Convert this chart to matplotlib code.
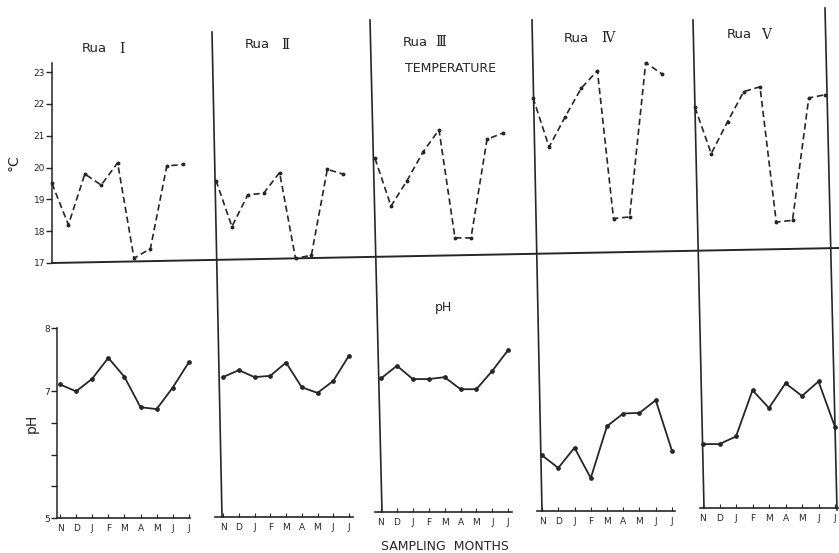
import matplotlib
matplotlib.use('Agg')
import matplotlib.pyplot as plt
from matplotlib.lines import Line2D
import numpy as np

W, H = 839, 553

months = ['N', 'D', 'J', 'F', 'M', 'A', 'M', 'J', 'J']
numerals = ['I', 'Ⅱ', 'Ⅲ', 'Ⅳ', 'Ⅴ']

# temperature (deg C), Nov -> Jul
temp_I = [19.5, 18.2, 19.8, 19.45, 20.15, 17.15, 17.45, 20.05, 20.1]
temp_II = [19.5, 18.05, 19.05, 19.1, 19.75, 17.05, 17.15, 19.85, 19.7]
temp_III = [20.1, 18.6, 19.4, 20.3, 21.0, 17.6, 17.6, 20.7, 20.9]
temp_IV = [21.9, 20.35, 21.3, 22.2, 22.75, 18.1, 18.15, 23.0, 22.65]
temp_V = [21.45, 20.0, 21.0, 21.95, 22.1, 17.85, 17.9, 21.75, 21.85]

# pH, Nov -> Jul
ph_I = [7.11, 7.0, 7.2, 7.53, 7.23, 6.75, 6.72, 7.06, 7.46]
ph_II = [7.21, 7.32, 7.21, 7.23, 7.44, 7.05, 6.96, 7.15, 7.55]
ph_III = [7.11, 7.31, 7.1, 7.1, 7.13, 6.94, 6.94, 7.23, 7.56]
ph_IV = [5.88, 5.68, 6.0, 5.52, 6.34, 6.54, 6.55, 6.75, 5.95]
ph_V = [6.01, 6.01, 6.13, 6.86, 6.58, 6.97, 6.77, 7.0, 6.28]

temps = [temp_I, temp_II, temp_III, temp_IV, temp_V]
phs = [ph_I, ph_II, ph_III, ph_IV, ph_V]

ink = '#262626'

# layout in pixels of the scanned page (it is slightly rotated)
t_x0 = [52, 216, 375, 533, 695]
t_step = [16.4, 15.9, 16.0, 16.1, 16.25]
t_base = [263, 260, 257, 253.5, 249]
t_px = 31.8          # px per degree

p_x0 = [60, 223, 381, 542, 703]
p_step = [16.1, 15.75, 15.9, 16.25, 16.5]
p_base = [518, 517, 512, 511, 508]
p_ax = [(57, 190), (215, 353), (375, 512), (537, 675), (700, 839)]
p_px = 63.3          # px per pH unit

rua_xy = [(82, 49), (245, 45), (403, 42), (564, 38), (727, 35)]
num_x = [119, 281, 435, 601, 761]


def rect(left, top, w, h):
    return [left / W, 1 - (top + h) / H, w / W, h / H]


fig = plt.figure(figsize=(W / 100, H / 100), dpi=100)
x = np.arange(len(months))

for k in range(5):
    # temperature panel
    ytop = 23.3 if k == 0 else 23
    hh = (ytop - 17) * t_px
    ax = fig.add_axes(rect(t_x0[k], t_base[k] - hh, 8 * t_step[k], hh))
    ax.plot(x, temps[k], ls=(0, (3.8, 2.2)), color=ink, lw=1.2,
            marker='o', ms=1.8, clip_on=False)
    ax.set_xlim(0, 8)
    ax.set_ylim(17, ytop)
    ax.patch.set_alpha(0)
    for s in ax.spines.values():
        s.set_visible(False)
    ax.set_xticks([])
    if k == 0:
        ax.spines['left'].set_visible(True)
        ax.spines['left'].set_color(ink)
        ax.spines['left'].set_linewidth(1.1)
        ax.set_yticks(range(17, 24))
        ax.tick_params(axis='y', direction='out', length=4, width=1,
                       labelsize=6.5, pad=1, colors=ink)
        ax.set_ylabel('°C', fontsize=10, color=ink, labelpad=9)
    else:
        ax.set_yticks([])

    # pH panel
    a0, a1 = p_ax[k]
    hp = 3 * p_px
    bx = fig.add_axes(rect(a0, p_base[k] - hp, a1 - a0, hp))
    bx.plot(x, phs[k], ls='-', color=ink, lw=1.3,
            marker='o', ms=2.4, clip_on=False)
    bx.set_xlim((a0 - p_x0[k]) / p_step[k], (a1 - p_x0[k]) / p_step[k])
    bx.set_ylim(5, 8)
    bx.patch.set_alpha(0)
    for s in ['top', 'right']:
        bx.spines[s].set_visible(False)
    bx.spines['bottom'].set_color(ink)
    bx.spines['bottom'].set_linewidth(1.2)
    bx.set_xticks(x)
    bx.set_xticklabels(months)
    bx.tick_params(axis='x', direction='in', length=3, width=0.8,
                   labelsize=6.5, pad=4, colors=ink)
    if k == 0:
        bx.spines['left'].set_color(ink)
        bx.spines['left'].set_linewidth(1.1)
        bx.set_yticks([5, 5.5, 6, 6.5, 7, 8])
        bx.set_yticklabels(['5', '', '', '', '7', '8'])
        bx.tick_params(axis='y', direction='out', length=4, width=1,
                       labelsize=6.5, pad=1, colors=ink)
        bx.set_ylabel('pH', fontsize=10, color=ink, labelpad=4)
    else:
        bx.spines['left'].set_visible(False)
        bx.set_yticks([])

    # panel title: "Rua" + roman numeral
    fig.text(rua_xy[k][0] / W, 1 - rua_xy[k][1] / H, 'Rua',
             fontsize=9.5, color=ink, va='center', ha='left')
    fig.text(num_x[k] / W, 1 - rua_xy[k][1] / H, numerals[k],
             fontsize=10, color=ink, va='center', ha='left',
             family='DejaVu Serif')


def fig_line(x0, y0, x1, y1, lw=1.2):
    fig.add_artist(Line2D([x0 / W, x1 / W], [1 - y0 / H, 1 - y1 / H],
                          transform=fig.transFigure, color=ink, lw=lw))


# long baseline at 17 deg and the panel dividers
fig_line(52, 263, 839, 248, 1.4)
fig_line(212, 32, 222, 517)
fig_line(370, 20, 382, 512)
fig_line(532, 20, 542, 511)
fig_line(693, 20, 704, 508)
fig_line(825, 8, 837, 510)

fig.text(405 / W, 1 - 68 / H, 'TEMPERATURE', fontsize=9, color=ink,
         va='center', ha='left')
fig.text(443 / W, 1 - 308 / H, 'pH', fontsize=9, color=ink,
         va='center', ha='center')
fig.text(445 / W, 1 - 547 / H, 'SAMPLING  MONTHS', fontsize=9, color=ink,
         va='center', ha='center')

fig.savefig('out.png', dpi=100)
